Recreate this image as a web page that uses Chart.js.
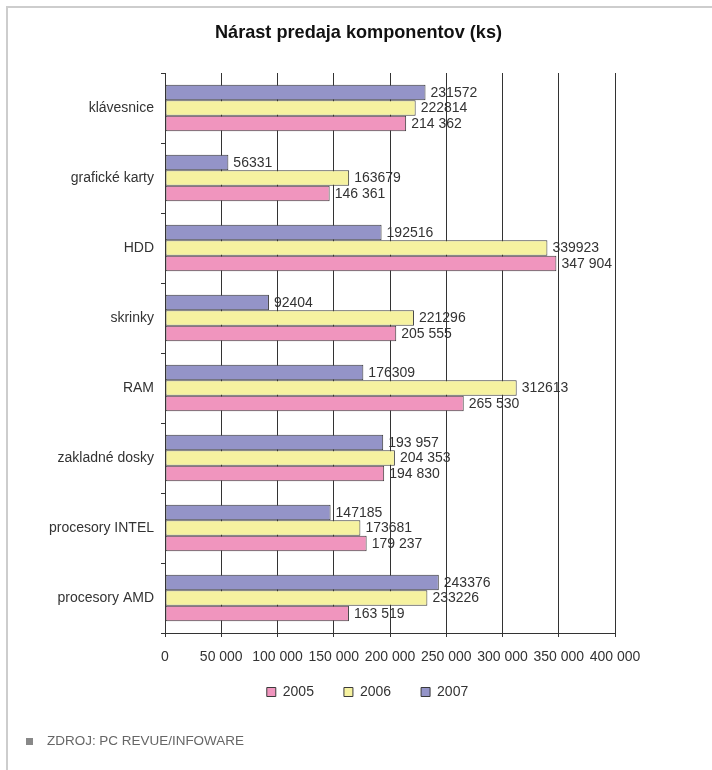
<!DOCTYPE html>
<html>
<head>
<meta charset="utf-8">
<script src="https://cdn.jsdelivr.net/npm/chart.js@4.4.1/dist/chart.umd.min.js"></script>
<style>
  html, body { margin: 0; padding: 0; background: #fff; }
  body { width: 712px; height: 770px; position: relative; overflow: hidden; }
  #frame { position: absolute; left: 6px; top: 6px; width: 720px; height: 780px;
           border-left: 2px solid #cdcdcd; border-top: 2px solid #cdcdcd; }
  #title { position: absolute; left: 0; top: 22px; white-space: nowrap;
           font-family: "Liberation Sans", Arial, sans-serif;
           font-weight: bold; font-size: 19px; line-height: 19px; color: #111; transform-origin: 0 0; }
  #src { position: absolute; left: 26px; top: 734px; white-space: nowrap; }
  #src span.sq { position: absolute; left: 0; top: 4px; width: 7px; height: 7px; background: #888; }
  #src span.txt { position: absolute; left: 21px; top: 0; font-family: "Liberation Sans", Arial, sans-serif;
         font-size: 13px; line-height: 14px; color: #666; transform-origin: 0 0; white-space: nowrap; }
  canvas { position: absolute; left: 0; top: 0; }
</style>
</head>
<body>
<div id="frame"></div>
<canvas id="c" width="712" height="770"></canvas>
<div id="title">Nárast predaja komponentov (ks)</div>
<div id="src"><span class="sq"></span><span class="txt" id="srctxt">ZDROJ: PC REVUE/INFOWARE</span></div>
<script>
const categories = ['klávesnice', 'grafické karty', 'HDD', 'skrinky', 'RAM', 'zakladné dosky', 'procesory INTEL', 'procesory AMD'];
const values2005 = [214362, 146361, 347904, 205555, 265530, 194830, 179237, 163519];
const values2006 = [222814, 163679, 339923, 221296, 312613, 204353, 173681, 233226];
const values2007 = [231572, 56331, 192516, 92404, 176309, 193957, 147185, 243376];
const labels2005 = ['214 362', '146 361', '347 904', '205 555', '265 530', '194 830', '179 237', '163 519'];
const labels2006 = ['222814', '163679', '339923', '221296', '312613', '204 353', '173681', '233226'];
const labels2007 = ['231572', '56331', '192516', '92404', '176309', '193 957', '147185', '243376'];
const tickLabels = ['0', '50 000', '100 000', '150 000', '200 000', '250 000', '300 000', '350 000', '400 000'];

// condensed look for the title and source line: scale real text horizontally
(function () {
  const t = document.getElementById('title');
  const w = t.getBoundingClientRect().width;
  const target = 287;
  t.style.transform = 'scaleX(' + (target / w) + ')';
  t.style.left = (358.5 - target / 2) + 'px';
  const s = document.getElementById('srctxt');
  const sw = s.getBoundingClientRect().width;
  s.style.transform = 'scaleX(' + (197 / sw) + ')';
})();

const FONT = '"Liberation Sans", Arial, sans-serif';
const TEXT = '#333333';

const valueLabelPlugin = {
  id: 'valueLabels',
  afterDatasetsDraw(chart) {
    const ctx = chart.ctx;
    ctx.save();
    ctx.font = '14px ' + FONT;
    ctx.fillStyle = TEXT;
    ctx.textAlign = 'left';
    ctx.textBaseline = 'middle';
    chart.data.datasets.forEach((ds, di) => {
      const meta = chart.getDatasetMeta(di);
      meta.data.forEach((el, i) => {
        ctx.fillText(ds.valueLabels[i], el.x + 5, el.y + 0.5);
      });
    });
    ctx.restore();
  }
};

// legend sits centred a little left of the plot centre, as in the source
const legendSpanPlugin = {
  id: 'legendSpan',
  afterLayout(chart) {
    const lg = chart.legend;
    if (lg) {
      lg.left = 120;
      lg.right = 615;
      lg.width = 495;
      const h = lg.height;
      lg.top = 655;
      lg.bottom = 655 + h;
    }
  }
};

new Chart(document.getElementById('c'), {
  type: 'bar',
  data: {
    labels: categories,
    datasets: [
      { label: '2007', data: values2007, valueLabels: labels2007, backgroundColor: '#9494C8', borderColor: '#3a3a3a', borderWidth: 1, borderSkipped: false },
      { label: '2006', data: values2006, valueLabels: labels2006, backgroundColor: '#F6F2A0', borderColor: '#3a3a3a', borderWidth: 1, borderSkipped: false },
      { label: '2005', data: values2005, valueLabels: labels2005, backgroundColor: '#F095BE', borderColor: '#3a3a3a', borderWidth: 1, borderSkipped: false }
    ]
  },
  options: {
    indexAxis: 'y',
    responsive: false,
    animation: false,
    devicePixelRatio: 1,
    categoryPercentage: 0.664,
    barPercentage: 1.0,
    layout: { padding: { left: 0, right: 97, top: 73, bottom: 50 } },
    scales: {
      x: {
        min: 0, max: 400000,
        grid: { color: '#333333', lineWidth: 1, tickLength: 4, drawTicks: true },
        border: { display: true, color: '#333333', width: 1 },
        ticks: {
          stepSize: 50000, autoSkip: false, maxRotation: 0, padding: 12,
          color: TEXT, font: { family: FONT, size: 14 },
          callback: (v, i) => tickLabels[i]
        },
        afterFit: (s) => { s.height = 33; }
      },
      y: {
        grid: { drawOnChartArea: false, color: '#333333', tickLength: 4, offset: true },
        border: { display: true, color: '#333333', width: 1 },
        ticks: { color: TEXT, font: { family: FONT, size: 14 }, padding: 7, autoSkip: false },
        afterFit: (s) => { s.width = 165; }
      }
    },
    plugins: {
      title: { display: false },
      tooltip: { enabled: false },
      legend: {
        position: 'bottom',
        reverse: true,
        labels: {
          boxWidth: 9, boxHeight: 9, padding: 30,
          color: TEXT, font: { family: FONT, size: 14 }
        }
      }
    }
  },
  plugins: [valueLabelPlugin, legendSpanPlugin]
});
</script>
</body>
</html>
